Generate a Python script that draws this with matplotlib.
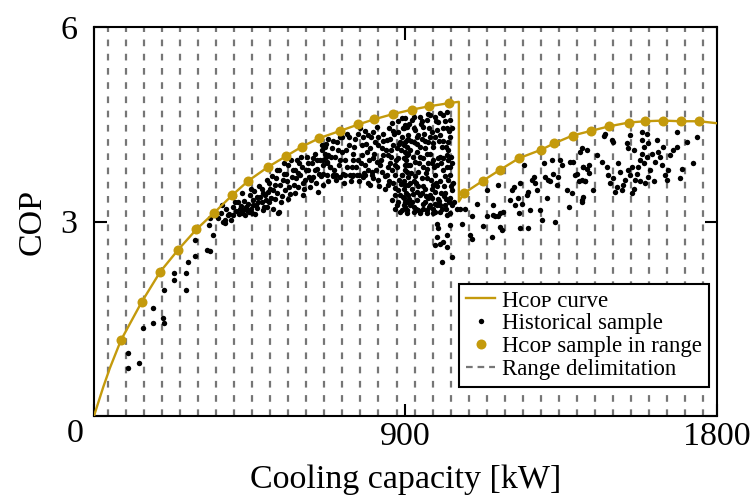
import matplotlib
matplotlib.use('Agg')
import matplotlib.pyplot as plt
from matplotlib.lines import Line2D

plt.rcParams['font.family'] = ['Liberation Serif', 'DejaVu Serif']

# ---------------- data ----------------
range_edges = [40, 92, 144, 196, 249, 301, 353, 405, 457, 509, 562, 614, 666, 718,
               770, 822, 875, 927, 979, 1031, 1083, 1135, 1188, 1240, 1292, 1344,
               1396, 1448, 1501, 1553, 1605, 1657, 1709, 1762]

curve_start_kw = [0, 27, 46]
curve_start_cop = [0.0, 0.45, 0.74]

sample_left_kw = [78, 138, 192, 244, 296, 348, 400, 446, 502, 555, 602, 652, 711,
                  764, 810, 864, 920, 968, 1027]
sample_left_cop = [1.17, 1.76, 2.23, 2.57, 2.88, 3.14, 3.41, 3.63, 3.84, 4.01, 4.16,
                   4.29, 4.40, 4.50, 4.58, 4.66, 4.73, 4.78, 4.83]

jump_kw = [1055, 1055]
jump_cop = [4.85, 3.31]

sample_right_kw = [1070, 1124, 1174, 1229, 1293, 1331, 1384, 1436, 1488, 1546, 1593,
                   1645, 1698, 1750]
sample_right_cop = [3.44, 3.63, 3.80, 3.98, 4.11, 4.21, 4.33, 4.40, 4.47, 4.53, 4.55,
                    4.56, 4.55, 4.55]

curve_end_kw = [1800]
curve_end_cop = [4.52]

hist_low = [(99, 0.98), (99, 0.74), (130, 0.82), (141, 1.36), (172, 1.67), (172, 1.43),
            (200, 1.52), (203, 1.44), (203, 1.94), (232, 2.10), (232, 2.21), (265, 2.21),
            (265, 1.94), (273, 2.37), (292, 2.47), (292, 2.71), (326, 2.56), (335, 2.55),
            (343, 2.80), (333, 2.95), (335, 3.05), (380, 2.98), (388, 3.10),
            (374, 3.00), (403, 3.10), (427, 3.13), (456, 3.14), (490, 3.18), (519, 3.19),
            (533, 3.13), (442, 3.18), (471, 3.21), (501, 3.23)]

hist_band = [(360, 3.05), (366, 3.13), (379, 3.02), (382, 3.20), (391, 3.12), (395, 3.03),
             (403, 3.23), (408, 3.31), (411, 3.17), (420, 3.12), (424, 3.24), (430, 3.18),
             (434, 3.32), (440, 3.22), (446, 3.28), (451, 3.41), (453, 3.19), (459, 3.33),
             (464, 3.48), (469, 3.26), (475, 3.31), (480, 3.38), (485, 3.50), (492, 3.22),
             (497, 3.33), (502, 3.46), (507, 3.59), (512, 3.36), (519, 3.49), (526, 3.67),
             (530, 3.80), (534, 3.15), (538, 3.56), (543, 3.39), (548, 3.73), (552, 3.49),
             (557, 3.62), (562, 3.87), (567, 3.43), (572, 3.69), (577, 3.56), (581, 3.80),
             (586, 3.95), (591, 3.54), (596, 3.72), (601, 3.85), (605, 3.41), (610, 3.64),
             (615, 4.00), (620, 3.80), (625, 3.54), (630, 3.90), (634, 3.69), (639, 4.05),
             (644, 3.82), (649, 3.46), (654, 3.95), (658, 4.10), (663, 3.74), (668, 4.16),
             (673, 3.90), (678, 4.03), (422, 3.20), (442, 3.18), (461, 3.26), (470, 3.38),
             (485, 3.31), (495, 3.41), (509, 3.51), (524, 3.56), (530, 3.44), (546, 3.64),
             (555, 3.74), (565, 3.54), (575, 3.80), (584, 3.67), (594, 3.90), (604, 3.59),
             (613, 3.80), (623, 3.69), (632, 3.98), (642, 3.59), (652, 3.74), (661, 3.87),
             (671, 4.00), (681, 3.85), (369, 3.26), (350, 3.10),
             (405, 3.40), (415, 3.30), (428, 3.45), (437, 3.10), (448, 3.15), (455, 3.50),
             (466, 3.12), (478, 3.55), (488, 3.45), (500, 3.65), (505, 3.30), (515, 3.70),
             (522, 3.35), (535, 3.80), (540, 3.30), (550, 3.90), (560, 3.35), (570, 3.95),
             (580, 3.45), (590, 3.75), (600, 4.00), (608, 3.50), (618, 3.90), (628, 3.65),
             (638, 3.80), (646, 3.95)]

hist_mid = [(658, 4.18), (668, 4.05), (673, 3.92), (678, 4.28), (683, 3.85), (687, 4.13),
            (692, 3.72), (697, 4.00), (702, 4.23), (707, 3.87), (711, 4.30), (716, 4.08),
            (721, 3.74), (726, 3.95), (731, 4.35), (736, 4.18), (740, 3.72), (745, 3.85),
            (750, 4.05), (755, 4.28), (760, 3.72), (764, 3.95), (769, 4.44), (774, 4.18),
            (779, 3.69), (784, 3.87), (789, 4.08), (793, 4.34), (798, 3.56), (803, 3.77),
            (808, 3.98), (813, 4.23), (818, 4.46), (822, 3.64), (827, 3.87), (832, 4.13),
            (837, 4.36), (842, 3.51), (846, 3.72), (851, 4.03), (856, 4.28), (861, 4.52),
            (866, 3.59), (871, 3.87), (875, 4.13), (880, 4.39), (885, 3.41), (890, 3.72),
            (895, 3.98), (899, 4.23), (904, 4.46), (875, 3.26), (890, 3.18), (899, 3.31),
            (871, 3.41), (909, 3.56), (909, 3.87), (673, 3.72), (663, 3.57), (711, 3.69),
            (750, 3.72), (774, 4.03), (784, 4.40), (793, 3.80), (798, 4.13), (808, 4.39),
            (818, 3.92), (822, 4.18), (832, 3.77), (837, 4.03), (846, 4.26), (851, 3.56),
            (856, 3.90), (866, 4.18), (871, 3.72), (880, 3.98), (885, 4.23), (895, 3.62),
            (899, 4.08), (904, 3.77), (909, 4.28), (861, 3.33), (880, 3.49), (895, 3.36),
            (655, 3.70), (662, 3.95), (670, 4.20), (676, 3.62), (684, 4.00), (690, 4.25),
            (695, 3.80), (700, 3.65), (705, 4.10), (712, 3.95), (718, 4.30), (723, 3.60),
            (728, 4.10), (733, 3.85), (738, 4.30), (743, 3.62), (748, 3.95), (753, 4.15),
            (758, 3.85), (762, 4.35), (767, 3.62), (772, 3.90), (777, 4.30), (782, 3.75),
            (787, 4.20), (791, 3.60), (796, 3.95), (801, 4.30), (806, 3.68), (811, 4.05),
            (815, 3.80), (820, 4.30), (825, 3.55), (830, 3.95), (835, 4.25), (840, 3.70),
            (844, 4.10), (849, 3.85), (700, 3.72), (725, 3.72), (765, 3.72), (785, 3.72),
            (805, 3.72), (690, 3.70), (745, 3.70)]

hist_peak = [(890, 4.60), (899, 4.49), (909, 4.34), (895, 4.18), (904, 4.03), (914, 3.87),
             (890, 3.72), (899, 3.56), (909, 3.41), (895, 3.26), (919, 4.57), (928, 4.41),
             (924, 4.23), (933, 4.08), (928, 3.92), (938, 3.77), (924, 3.62), (933, 3.46),
             (919, 3.31), (938, 3.18), (943, 4.62), (952, 4.46), (948, 4.28), (957, 4.13),
             (952, 3.98), (962, 3.82), (948, 3.67), (957, 3.51), (967, 3.36), (952, 3.20),
             (972, 4.64), (977, 4.39), (981, 4.21), (972, 4.05), (977, 3.90), (986, 3.72),
             (981, 3.56), (972, 3.41), (991, 3.26), (986, 3.15), (996, 4.54), (1001, 4.34),
             (1006, 4.16), (996, 3.98), (1010, 3.80), (1001, 3.62), (1015, 3.44), (1006, 3.20),
             (1020, 4.44), (1025, 4.23), (1020, 4.03), (1030, 3.85), (1025, 3.64), (1030, 3.36),
             (1030, 3.13), (895, 4.44), (904, 4.26), (914, 4.10), (899, 3.87), (909, 3.69),
             (919, 3.51), (904, 3.31), (938, 4.34), (943, 4.00), (943, 3.41), (962, 4.57),
             (967, 4.23), (962, 3.67), (972, 3.26), (991, 4.41), (991, 3.87), (986, 3.46),
             (1010, 4.64), (1010, 3.98), (1015, 3.26), (1030, 4.57), (1025, 4.10), (1034, 3.49),
             (1030, 3.72), (885, 3.15), (904, 3.13), (924, 3.15), (943, 3.13), (962, 3.18),
             (981, 3.13), (1001, 3.15), (1020, 3.10), (871, 3.20), (904, 3.18), (924, 3.23),
             (943, 3.15), (962, 3.13), (981, 3.20), (991, 2.97), (996, 2.90), (991, 2.77),
             (986, 2.64), (1001, 2.66), (1010, 2.69), (1020, 2.61), (1020, 2.79), (1030, 2.95),
             (1034, 2.46), (1006, 2.38), (1049, 3.20),
             (852, 4.45), (858, 4.10), (863, 3.80), (868, 4.35), (873, 3.95), (878, 4.55),
             (883, 3.65), (887, 4.10), (892, 4.30), (897, 3.50), (902, 3.95), (906, 4.15),
             (911, 4.50), (916, 3.75), (921, 4.00), (926, 4.45), (931, 3.60), (935, 4.20),
             (940, 3.90), (945, 4.50), (950, 3.55), (955, 4.35), (959, 3.75), (964, 4.05),
             (969, 4.45), (974, 3.65), (979, 4.15), (983, 3.85), (988, 4.55), (993, 3.55),
             (998, 4.25), (1003, 3.90), (1008, 4.45), (1012, 3.55), (1017, 4.15), (1022, 3.85),
             (1027, 4.40), (1032, 4.00), (1037, 3.60), (1040, 3.30),
             (854, 3.62), (860, 4.00), (865, 4.40), (870, 3.52), (876, 3.85), (882, 4.20),
             (888, 3.58), (893, 4.45), (898, 3.80), (903, 3.45), (908, 4.05), (913, 3.60),
             (918, 4.25), (923, 3.42), (928, 3.70), (933, 4.30), (938, 3.55), (942, 4.15),
             (947, 3.45), (951, 3.85), (956, 4.25), (961, 3.40), (966, 3.90), (971, 4.30),
             (976, 3.50), (980, 3.95), (985, 4.30), (990, 3.60), (995, 3.35), (1000, 4.00),
             (1004, 3.45), (1009, 4.25), (1014, 3.70), (1019, 3.35), (1024, 3.95), (1028, 4.30),
             (1033, 3.55), (1036, 3.90),
             (880, 3.30), (900, 3.22), (915, 3.25), (930, 3.20), (950, 3.28), (968, 3.22),
             (985, 3.28), (1000, 3.25), (1018, 3.20), (1035, 3.25), (893, 3.38), (912, 3.35),
             (935, 3.33), (958, 3.30), (978, 3.36), (997, 3.32), (1012, 3.40), (1027, 3.30),
             (900, 4.60), (925, 4.62), (948, 4.55), (965, 4.66), (985, 4.62), (1000, 4.68),
             (1015, 4.55), (1022, 4.70), (1035, 4.45)]

hist_right = [(1058, 3.20), (1073, 3.20), (1063, 2.97), (1092, 3.08), (1107, 3.28),
              (1087, 2.79), (1092, 2.74), (1126, 2.93), (1136, 3.08), (1136, 3.49),
              (1150, 2.77), (1155, 3.26), (1155, 3.10), (1160, 3.08), (1169, 3.08),
              (1174, 3.13), (1169, 3.56), (1174, 2.92), (1179, 2.87), (1184, 3.15),
              (1203, 3.33), (1208, 3.49), (1213, 3.54), (1218, 3.26), (1227, 3.36),
              (1230, 3.13), (1232, 2.90), (1232, 3.59), (1237, 3.28), (1242, 3.87),
              (1251, 3.41), (1256, 3.46), (1256, 2.90), (1261, 3.18), (1266, 3.64),
              (1271, 3.69), (1275, 3.59), (1280, 3.49), (1290, 3.18), (1295, 3.02),
              (1300, 3.90), (1304, 3.69), (1309, 3.36), (1314, 3.64), (1319, 3.62),
              (1324, 3.95), (1328, 3.74), (1333, 3.00), (1338, 3.56), (1343, 3.69),
              (1348, 3.95), (1353, 3.87), (1367, 3.49), (1372, 3.23), (1377, 3.92),
              (1381, 3.44), (1386, 3.92), (1391, 3.72), (1396, 3.74), (1401, 3.62),
              (1406, 4.08), (1410, 3.33), (1415, 3.85), (1420, 3.62), (1430, 3.87)]

hist_far = [(1410, 4.13), (1425, 4.11), (1415, 3.85), (1425, 3.82), (1432, 3.75),
            (1410, 3.64), (1420, 3.62), (1444, 3.49), (1415, 3.38), (1410, 3.31),
            (1454, 4.03), (1468, 3.92), (1478, 4.36), (1475, 4.32), (1483, 3.85),
            (1487, 3.72), (1492, 3.59), (1497, 4.26), (1502, 4.23), (1502, 3.67),
            (1507, 3.46), (1512, 3.54), (1516, 3.90), (1521, 3.77), (1526, 3.49),
            (1531, 3.56), (1536, 3.64), (1540, 4.21), (1545, 4.13), (1545, 3.80),
            (1550, 4.34), (1550, 3.72), (1555, 3.85), (1555, 3.44), (1560, 3.51),
            (1560, 4.10), (1565, 3.64), (1569, 3.74), (1574, 3.85), (1579, 3.95),
            (1579, 3.62), (1584, 4.39), (1584, 4.26), (1584, 4.05), (1589, 4.16),
            (1589, 3.90), (1593, 3.59), (1598, 4.36), (1598, 4.00), (1603, 4.21),
            (1603, 3.69), (1608, 3.80), (1613, 4.05), (1618, 3.62), (1622, 3.92),
            (1627, 4.26), (1632, 4.08), (1637, 4.00), (1642, 3.87), (1646, 4.16),
            (1651, 3.72), (1656, 3.64), (1661, 3.80), (1666, 4.03), (1675, 4.10),
            (1685, 4.39), (1685, 4.16), (1695, 3.67), (1699, 3.82), (1714, 4.23),
            (1733, 3.90), (1743, 4.31)]

x_ticks = [0, 900, 1800]
x_ticklabels = ['', '900', '1800']
y_ticks = [0, 3, 6]
y_ticklabels = ['', '3', '6']

legend_labels = ['H\u1d04\u1d0f\u1d18 curve', 'Historical sample',
                 'H\u1d04\u1d0f\u1d18 sample in range', 'Range delimitation']

# ---------------- plot ----------------
GOLD = '#C49A0C'
GRAY = '#767676'

fig = plt.figure(figsize=(7.56, 5.04), dpi=100)
ax = fig.add_axes([0.1243, 0.1746, 0.8235, 0.7712])

for e in range_edges:
    ax.axvline(e, color=GRAY, lw=1.6, dashes=(3.0, 3.4), zorder=1)

hist = hist_low + hist_band + hist_mid + hist_peak + hist_right + hist_far
hist_kw = [p[0] for p in hist]
hist_cop = [p[1] for p in hist]
ax.plot(hist_kw, hist_cop, ls='none', marker='o', color='black', ms=3.9, mew=0, zorder=2)

curve_kw = curve_start_kw + sample_left_kw + jump_kw + sample_right_kw + curve_end_kw
curve_cop = curve_start_cop + sample_left_cop + jump_cop + sample_right_cop + curve_end_cop
ax.plot(curve_kw, curve_cop, color=GOLD, lw=1.7, zorder=3)
ax.plot(sample_left_kw + sample_right_kw, sample_left_cop + sample_right_cop,
        ls='none', marker='o', color=GOLD, ms=7.2, mew=0, zorder=4)

ax.set_xlim(0, 1800)
ax.set_ylim(0, 6)
ax.set_xticks(x_ticks)
ax.set_xticklabels(x_ticklabels)
ax.set_yticks(y_ticks)
ax.set_yticklabels(y_ticklabels)
ax.tick_params(direction='in', length=9, width=1.5, labelsize=24.5,
               top=True, right=True)
ax.tick_params(axis='x', pad=4)
ax.tick_params(axis='y', pad=12)
for s in ax.spines.values():
    s.set_linewidth(1.5)

ax.text(-0.03, -0.045, '0', transform=ax.transAxes, ha='center', va='center', fontsize=24.5)

ax.set_xlabel('Cooling capacity [kW]', fontsize=24.5)
ax.xaxis.set_label_coords(0.5, -0.125)
ax.set_ylabel('COP', fontsize=24.5)
ax.yaxis.set_label_coords(-0.075, 0.5)

handles = [Line2D([], [], color=GOLD, lw=1.7),
           Line2D([], [], ls='none', marker='o', color='black', ms=3.9, mew=0),
           Line2D([], [], ls='none', marker='o', color=GOLD, ms=7.2, mew=0),
           Line2D([], [], color=GRAY, lw=1.6, dashes=(3.0, 2.2))]
leg = ax.legend(handles, legend_labels, loc='lower right', bbox_to_anchor=(0.988, 0.0746),
                borderaxespad=0, fontsize=16.5, frameon=True, fancybox=False, framealpha=1,
                edgecolor='black', handlelength=1.3, handletextpad=0.3, labelspacing=0.08,
                borderpad=0.3)
leg.get_frame().set_linewidth(1.5)
leg.set_zorder(10)

fig.savefig('out.png', dpi=100)
